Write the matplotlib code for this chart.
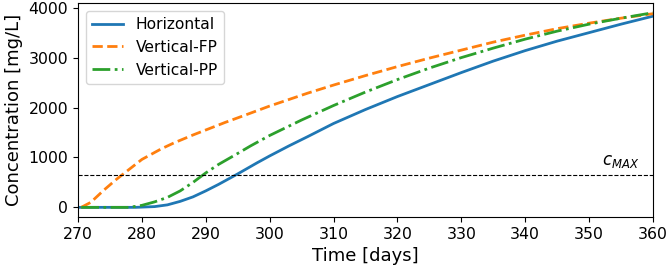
import numpy as np
import matplotlib.pyplot as plt

# values
t_h = [270, 279, 282, 284, 286, 288, 290, 292, 295, 298, 300, 303, 306, 310, 315, 320, 325, 330, 335, 340, 345, 350, 355, 360]
c_h = [0, 0, 15, 50, 120, 210, 330, 460, 670, 890, 1030, 1230, 1420, 1680, 1960, 2220, 2460, 2700, 2930, 3140, 3330, 3500, 3670, 3830]

t_fp = [270.5, 272, 274, 276, 277, 278, 280, 283, 285, 288, 290, 293, 296, 300, 303, 306, 310, 315, 320, 325, 330, 335, 340, 345, 350, 355, 360]
c_fp = [0, 100, 340, 560, 660, 760, 960, 1170, 1290, 1450, 1550, 1700, 1840, 2030, 2160, 2290, 2450, 2640, 2820, 2990, 3150, 3310, 3450, 3580, 3690, 3790, 3880]

t_pp = [270.5, 278, 280, 282, 284, 286, 288, 290, 292, 295, 297, 300, 305, 310, 315, 320, 325, 330, 335, 340, 345, 350, 355, 360]
c_pp = [0, 0, 40, 110, 200, 330, 500, 690, 860, 1080, 1230, 1440, 1750, 2040, 2310, 2560, 2790, 3000, 3190, 3370, 3530, 3670, 3790, 3900]

c_max = 650

fig, ax = plt.subplots(figsize=(6.69, 2.69), dpi=100)
fig.subplots_adjust(left=0.1166, right=0.976, top=0.989, bottom=0.193)

ax.plot(t_h, c_h, color="tab:blue", lw=2, label="Horizontal")
ax.plot(t_fp, c_fp, color="tab:orange", lw=2, ls="--", label="Vertical-FP")
ax.plot(t_pp, c_pp, color="tab:green", lw=2, ls="-.", label="Vertical-PP")
ax.axhline(c_max, color="k", lw=0.8, ls="--")
ax.text(355, c_max + 100, "$c_{MAX}$", ha="center", va="bottom", fontsize=12)

ax.set_xlim(270, 360)
ax.set_xticks(np.arange(270, 361, 10))
ax.set_yticks([0, 1000, 2000, 3000, 4000])
ax.tick_params(labelsize=11.3)
ax.set_xlabel("Time [days]", fontsize=13)
ax.set_ylabel("Concentration [mg/L]", fontsize=13)
ax.legend(loc="upper left", fontsize=11.2)

plt.savefig("out.png")
